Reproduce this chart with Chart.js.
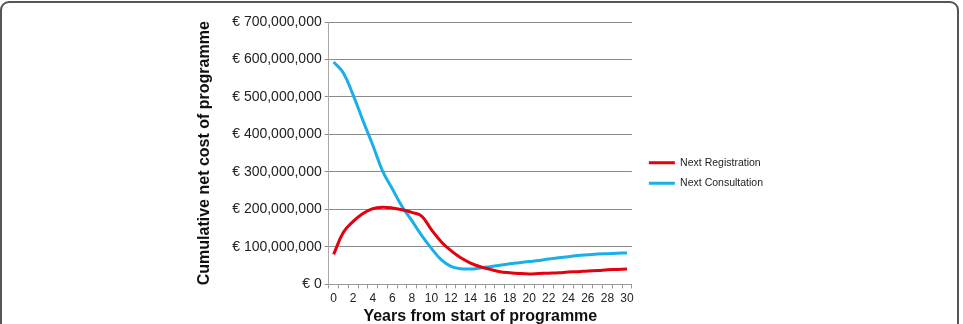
<!DOCTYPE html>
<html>
<head>
<meta charset="utf-8">
<script src="https://cdn.jsdelivr.net/npm/chart.js@4"></script>
<style>
  html, body { margin: 0; padding: 0; background: #fff; overflow: hidden; }
  body { width: 963px; height: 324px; position: relative; }
  .frame {
    position: absolute; left: 0; top: 1px; width: 959px; height: 400px;
    box-sizing: border-box; border: 2px solid #555; border-radius: 9px;
  }
  .wrap { position: absolute; left: 0; top: 0; width: 766px; height: 324px; }
</style>
</head>
<body>
<div class="frame"></div>
<div class="wrap"><canvas id="myChart"></canvas></div>
<script>
// Années depuis le début du programme
const years = [0, 1, 2, 3, 4, 5, 6, 7, 8, 9, 10, 11, 12, 13, 14, 15, 16, 17, 18, 19, 20,
  21, 22, 23, 24, 25, 26, 27, 28, 29, 30];

// Coût net cumulé, en millions d'euros
const nextRegistration = [80, 139, 168, 189, 202, 206, 204, 199, 192, 182, 146, 114, 90, 71, 57,
  47, 40, 34, 31, 29, 28, 29, 30, 31, 33, 34, 36, 37, 39, 40, 41];
const nextConsultation = [593, 564, 505, 437, 372, 303, 255, 208, 170, 131, 96, 66, 48, 42, 41,
  44, 47, 51, 55, 58, 61, 64, 68, 71, 74, 77, 79, 81, 82, 83, 84];

// Graduations de l'axe Y
const yTicks = [0, 100000000, 200000000, 300000000, 400000000, 500000000, 600000000, 700000000];

const MILLION = 1000000;
const font = '"Liberation Sans", Arial, Helvetica, sans-serif';

// petit décalage de la légende vers la droite (espace entre le graphe et la légende)
const legendShift = {
  id: 'legendShift',
  afterLayout(chart) {
    chart.legend.left += 7;
    chart.legend.right += 7;
  }
};

const ctx = document.getElementById('myChart').getContext('2d');

new Chart(ctx, {
  type: 'line',
  data: {
    labels: years,
    datasets: [{
      label: 'Next Registration',
      data: nextRegistration.map(v => v * MILLION),
      borderColor: '#e3000f',
      backgroundColor: '#e3000f',
      borderWidth: 3,
      pointRadius: 0,
      tension: 0.4
    }, {
      label: 'Next Consultation',
      data: nextConsultation.map(v => v * MILLION),
      borderColor: '#1aafe6',
      backgroundColor: '#1aafe6',
      borderWidth: 3,
      pointRadius: 0,
      tension: 0.4
    }]
  },
  plugins: [legendShift],
  options: {
    responsive: true,
    maintainAspectRatio: false,
    animation: false,
    layout: { padding: { left: 195, top: 22, right: 0, bottom: 0 } },
    plugins: {
      legend: {
        position: 'right',
        labels: {
          boxWidth: 26,
          boxHeight: 3,
          padding: 10,
          color: '#222',
          font: { family: font, size: 10.5 },
          // pas de bordure autour du trait de la légende
          generateLabels: chart => Chart.defaults.plugins.legend.labels.generateLabels(chart)
            .map(l => ({ ...l, lineWidth: 0 }))
        }
      },
      tooltip: { enabled: false }
    },
    scales: {
      x: {
        offset: true,
        border: { color: '#999', width: 1 },
        grid: { drawOnChartArea: false, drawTicks: true, tickLength: 4, color: '#999', offset: true },
        ticks: {
          autoSkip: false,
          maxRotation: 0,
          padding: 3,
          color: '#222',
          font: { family: font, size: 12 },
          callback: (v, i) => (years[i] % 2 === 0 ? String(years[i]) : '')
        },
        title: {
          display: true,
          text: 'Years from start of programme',
          color: '#111',
          font: { family: font, size: 16, weight: 'bold' },
          padding: { top: -2, bottom: -2 }
        }
      },
      y: {
        min: 0,
        max: 700000000,
        afterBuildTicks: scale => { scale.ticks = yTicks.map(v => ({ value: v })); },
        border: { color: '#aaa', width: 1 },
        grid: { color: '#8a8a8a', tickLength: 4, lineWidth: 1 },
        ticks: {
          padding: 3,
          color: '#222',
          font: { family: font, size: 14 },
          callback: v => '€ ' + v.toLocaleString('en-US')
        },
        title: {
          display: true,
          text: 'Cumulative net cost of programme',
          color: '#111',
          font: { family: font, size: 16, weight: 'bold' },
          padding: { top: 0, bottom: 15 }
        }
      }
    }
  }
});
</script>
</body>
</html>
